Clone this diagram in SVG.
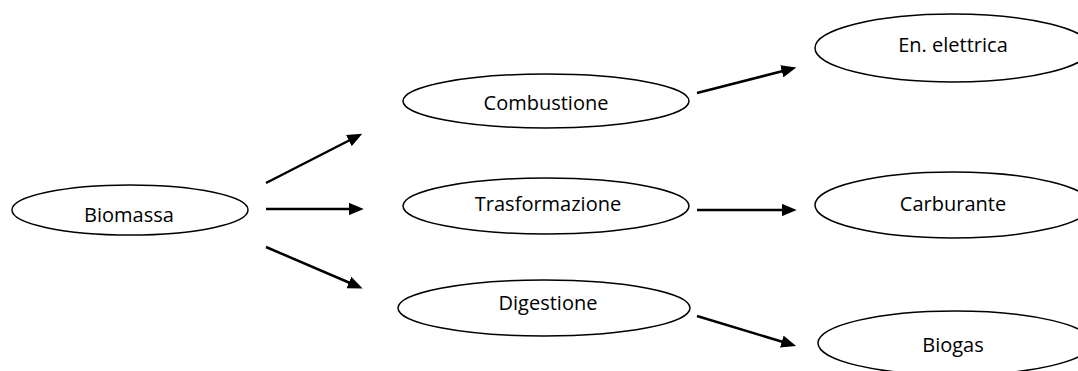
<svg xmlns="http://www.w3.org/2000/svg" width="1078" height="371" viewBox="0 0 1078 371">
  <style>
    .node ellipse { fill: #ffffff; stroke: #000000; stroke-width: 1.5; }
    .node text { font-family: "Open Sans", "Liberation Sans", sans-serif; font-size: 20px; fill: #000000; text-anchor: middle; }
    .edge { stroke: #000000; stroke-width: 2.5; fill: none; marker-end: url(#arrow); }
  </style>
  <defs>
    <marker id="arrow" markerWidth="6" markerHeight="5" refX="0.5" refY="2.5" orient="auto" markerUnits="strokeWidth">
      <path d="M0,0 L6,2.5 L0,5 Z" fill="#000000"/>
    </marker>
  </defs>
  <rect width="1078" height="371" fill="#ffffff"/>

  <g id="connectors">
    <line class="edge" x1="266" y1="183" x2="350" y2="140"/>
    <line class="edge" x1="266" y1="209" x2="350" y2="209"/>
    <line class="edge" x1="266" y1="247" x2="350" y2="283"/>
    <line class="edge" x1="697" y1="93" x2="783" y2="71"/>
    <line class="edge" x1="697" y1="210" x2="783" y2="210"/>
    <line class="edge" x1="697" y1="316" x2="783" y2="342"/>
  </g>

  <g id="biomassa" class="node">
    <ellipse cx="130" cy="210" rx="118" ry="25"/>
    <text x="129" y="222">Biomassa</text>
  </g>
  <g id="combustione" class="node">
    <ellipse cx="546" cy="101" rx="143" ry="27"/>
    <text x="546" y="110">Combustione</text>
  </g>
  <g id="trasformazione" class="node">
    <ellipse cx="546" cy="206" rx="143" ry="28"/>
    <text x="548" y="211">Trasformazione</text>
  </g>
  <g id="digestione" class="node">
    <ellipse cx="544" cy="308" rx="146" ry="28"/>
    <text x="548" y="310">Digestione</text>
  </g>
  <g id="en-elettrica" class="node">
    <ellipse cx="953" cy="48" rx="138" ry="34"/>
    <text x="953" y="52">En. elettrica</text>
  </g>
  <g id="carburante" class="node">
    <ellipse cx="953" cy="205" rx="138" ry="33"/>
    <text x="953" y="211">Carburante</text>
  </g>
  <g id="biogas" class="node">
    <ellipse cx="955" cy="343" rx="137" ry="32"/>
    <text x="953" y="352">Biogas</text>
  </g>
</svg>
